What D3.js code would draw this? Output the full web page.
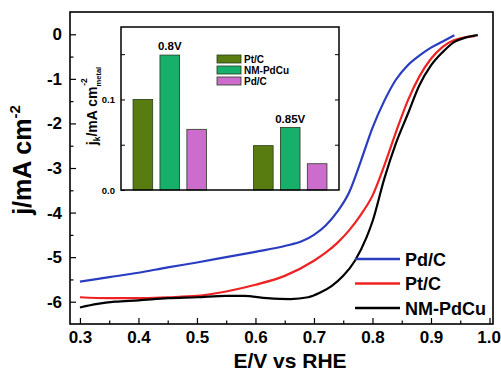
<!DOCTYPE html>
<html>
<head>
<meta charset="utf-8">
<script src="https://cdn.jsdelivr.net/npm/d3@7"></script>
<style>
  body { margin: 0; background: #fff; }
  svg { display: block; font-family: "Liberation Sans", Arial, sans-serif; font-weight: bold; }
</style>
</head>
<body>
<svg width="501" height="373"></svg>
<script>
// LSV curves, E (V vs RHE) and j (mA cm-2)
var seriesNames = ['Pd/C', 'Pt/C', 'NM-PdCu'];
var seriesColors = ['#2a3cc0', '#ee2222', '#000000'];

var pdcE = [0.30, 0.35, 0.40, 0.45, 0.50, 0.55, 0.60, 0.65, 0.68, 0.70, 0.72, 0.74, 0.76, 0.78, 0.80, 0.82, 0.84, 0.86, 0.88, 0.90, 0.92, 0.94];
var pdcJ = [-5.55, -5.45, -5.35, -5.23, -5.12, -5.00, -4.88, -4.75, -4.64, -4.50, -4.29, -3.98, -3.55, -2.85, -2.10, -1.50, -1.02, -0.70, -0.48, -0.30, -0.16, -0.02];

var ptcE = [0.30, 0.35, 0.40, 0.45, 0.50, 0.55, 0.60, 0.65, 0.70, 0.72, 0.74, 0.76, 0.78, 0.80, 0.82, 0.84, 0.86, 0.88, 0.90, 0.92, 0.94, 0.96, 0.975];
var ptcJ = [-5.90, -5.92, -5.92, -5.90, -5.87, -5.77, -5.62, -5.42, -5.08, -4.90, -4.68, -4.40, -4.05, -3.62, -2.95, -2.20, -1.50, -0.95, -0.55, -0.28, -0.13, -0.06, -0.04];

var nmE = [0.30, 0.33, 0.36, 0.40, 0.45, 0.50, 0.55, 0.58, 0.62, 0.66, 0.69, 0.71, 0.73, 0.75, 0.77, 0.79, 0.80, 0.82, 0.84, 0.86, 0.88, 0.90, 0.92, 0.94, 0.96, 0.98];
var nmJ = [-6.13, -6.05, -6.00, -5.97, -5.92, -5.90, -5.87, -5.87, -5.92, -5.94, -5.90, -5.80, -5.65, -5.42, -5.08, -4.55, -4.20, -3.25, -2.45, -1.80, -1.15, -0.70, -0.40, -0.17, -0.07, -0.02];

var xTicks = [0.3, 0.4, 0.5, 0.6, 0.7, 0.8, 0.9, 1.0];
var yTicks = [0, -1, -2, -3, -4, -5, -6];

// inset: kinetic current density
var potentials = ['0.8V', '0.85V'];
var catalysts = ['Pt/C', 'NM-PdCu', 'Pd/C'];
var barColors = ['#587c10', '#16b06a', '#cc6ccc'];
var jk08 = [0.100, 0.149, 0.067];
var jk085 = [0.049, 0.069, 0.029];
var insetTicks = [0.0, 0.1];

var svg = d3.select('svg');

var x = d3.scaleLinear().domain([0.283, 1.006]).range([70, 493]);
var y = d3.scaleLinear().domain([-6.5, 0.5]).range([324, 12]);

// axes
var xAxis = d3.axisBottom(x).tickValues(d3.range(0.3, 1.001, 0.05))
    .tickSize(-6).tickPadding(7)
    .tickFormat(function (d) { return xTicks.some(function (t) { return Math.abs(t - d) < 1e-6; }) ? d3.format('.1f')(d) : ''; });
var gx = svg.append('g').attr('transform', 'translate(0,' + y.range()[0] + ')').call(xAxis);
gx.selectAll('.tick line').attr('y2', function (d, i) { return i % 2 ? -3.5 : -6; });

var yAxis = d3.axisLeft(y).tickValues(d3.range(-6, 0.001, 0.5))
    .tickSize(-6).tickPadding(8)
    .tickFormat(function (d) { return yTicks.indexOf(d) >= 0 ? String(d) : ''; });
var gy = svg.append('g').attr('transform', 'translate(' + x.range()[0] + ',0)').call(yAxis);
gy.selectAll('.tick line').attr('x2', function (d) { return Number.isInteger(d) ? 6 : 3.5; });

[gx, gy].forEach(function (g) {
    g.select('.domain').remove();
    g.selectAll('.tick line').attr('stroke', '#000').attr('stroke-width', 1.2);
    g.selectAll('text').attr('fill', '#000').attr('font-size', 17).attr('font-family', null);
});
// keep the last x label inside the window
gx.selectAll('.tick text').filter(function (d) { return Math.abs(d - 1.0) < 1e-6; })
    .attr('text-anchor', 'end').attr('dx', 11);

svg.append('rect')
    .attr('x', x.range()[0]).attr('y', y.range()[1])
    .attr('width', x.range()[1] - x.range()[0]).attr('height', y.range()[0] - y.range()[1])
    .attr('fill', 'none').attr('stroke', '#000').attr('stroke-width', 1.6);

// axis titles
svg.append('text').attr('x', 290).attr('y', 368).attr('text-anchor', 'middle')
    .attr('font-size', 21).text('E/V vs RHE');
var yt = svg.append('text').attr('transform', 'translate(31,160) rotate(-90)')
    .attr('text-anchor', 'middle').attr('font-size', 25);
yt.append('tspan').text('j/mA cm');
yt.append('tspan').attr('dy', -11).attr('font-size', 15).text('-2');

// curves
var lineGen = d3.line().x(function (d) { return x(d[0]); }).y(function (d) { return y(d[1]); })
    .curve(d3.curveMonotoneX);
var curveData = [d3.zip(pdcE, pdcJ), d3.zip(ptcE, ptcJ), d3.zip(nmE, nmJ)];
svg.selectAll('path.curve').data(curveData).enter().append('path')
    .attr('class', 'curve')
    .attr('d', lineGen)
    .attr('fill', 'none')
    .attr('stroke', function (d, i) { return seriesColors[i]; })
    .attr('stroke-width', 2.2);

// legend
var leg = svg.selectAll('g.leg').data(seriesNames).enter().append('g')
    .attr('class', 'leg')
    .attr('transform', function (d, i) { return 'translate(355,' + (259 + i * 24.5) + ')'; });
leg.append('line').attr('x1', 0).attr('x2', 45)
    .attr('stroke', function (d, i) { return seriesColors[i]; }).attr('stroke-width', 2.5);
leg.append('text').attr('x', 50).attr('y', 6.5).attr('font-size', 18).text(function (d) { return d; });

// inset
var ix = d3.scaleBand().domain(potentials).range([121, 339]).paddingInner(0.39).paddingOuter(0.1);
var ib = d3.scaleBand().domain(catalysts).range([0, ix.bandwidth()]).paddingInner(0.27);
var iy = d3.scaleLinear().domain([0, 0.18]).range([190, 27]);

svg.append('rect')
    .attr('x', ix.range()[0]).attr('y', iy.range()[1])
    .attr('width', ix.range()[1] - ix.range()[0]).attr('height', iy.range()[0] - iy.range()[1])
    .attr('fill', '#fff');

var barData = [jk08, jk085];
var groups = svg.selectAll('g.grp').data(potentials).enter().append('g')
    .attr('class', 'grp')
    .attr('transform', function (d) { return 'translate(' + ix(d) + ',0)'; });
groups.selectAll('rect').data(function (d, gi) { return barData[gi]; }).enter().append('rect')
    .attr('x', function (d, i) { return ib(catalysts[i]); })
    .attr('y', function (d) { return iy(d); })
    .attr('width', ib.bandwidth())
    .attr('height', function (d) { return iy(0) - iy(d); })
    .attr('fill', function (d, i) { return barColors[i]; })
    .attr('stroke', '#2a3a20').attr('stroke-width', 0.8);
groups.append('text')
    .attr('x', ib('NM-PdCu') + ib.bandwidth() / 2)
    .attr('y', function (d, gi) { return iy(barData[gi][1]) - 5; })
    .attr('text-anchor', 'middle').attr('font-size', 11.5)
    .text(function (d) { return d; });

var iyAxisL = d3.axisLeft(iy).tickValues([0, 0.05, 0.1, 0.15]).tickSize(-4).tickPadding(6)
    .tickFormat(function (d) { return insetTicks.indexOf(d) >= 0 ? d3.format('.1f')(d) : ''; });
var giL = svg.append('g').attr('transform', 'translate(' + ix.range()[0] + ',0)').call(iyAxisL);
var iyAxisR = d3.axisRight(iy).tickValues([0.05, 0.1, 0.15]).tickSize(-4).tickFormat('');
var giR = svg.append('g').attr('transform', 'translate(' + ix.range()[1] + ',0)').call(iyAxisR);
[giL, giR].forEach(function (g) {
    g.select('.domain').remove();
    g.selectAll('.tick line').attr('stroke', '#000');
    g.selectAll('text').attr('fill', '#000').attr('font-size', 9.5).attr('font-family', null);
});

svg.append('rect')
    .attr('x', ix.range()[0]).attr('y', iy.range()[1])
    .attr('width', ix.range()[1] - ix.range()[0]).attr('height', iy.range()[0] - iy.range()[1])
    .attr('fill', 'none').attr('stroke', '#000').attr('stroke-width', 1.5);

// inset y title
var it = svg.append('text').attr('transform', 'translate(97,106) rotate(-90)')
    .attr('text-anchor', 'middle').attr('font-size', 14);
it.append('tspan').text('j');
it.append('tspan').attr('dy', 3).attr('font-size', 8.5).text('k');
it.append('tspan').attr('dy', -3).text('/mA cm');
it.append('tspan').attr('dy', 4).attr('font-size', 7.5).text('metal');
it.append('tspan').attr('dy', -14).attr('dx', -19).attr('font-size', 8.5).text('-2');

// inset legend
var ileg = svg.selectAll('g.ileg').data(catalysts).enter().append('g')
    .attr('class', 'ileg')
    .attr('transform', function (d, i) { return 'translate(217,' + (55 + i * 11) + ')'; });
ileg.append('rect').attr('width', 24).attr('height', 8)
    .attr('fill', function (d, i) { return barColors[i]; })
    .attr('stroke', '#2a3a20').attr('stroke-width', 0.8);
ileg.append('text').attr('x', 27).attr('y', 7.5).attr('font-size', 10).text(function (d) { return d; });
</script>
</body>
</html>
